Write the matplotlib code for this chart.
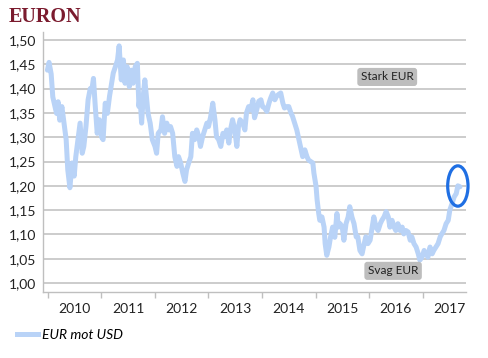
import matplotlib
matplotlib.use("Agg")
import matplotlib.pyplot as plt
from matplotlib.patches import Ellipse
from matplotlib.lines import Line2D

title = "EURON"
series_name = "EUR mot USD"
year_labels = ["2010", "2011", "2012", "2013", "2014", "2015", "2016", "2017"]
y_ticks = [1.00, 1.05, 1.10, 1.15, 1.20, 1.25, 1.30, 1.35, 1.40, 1.45, 1.50]

dates = [
    2009.99, 2010.02, 2010.06, 2010.09, 2010.13, 2010.16, 2010.19, 2010.22, 2010.26, 2010.30,
    2010.34, 2010.37, 2010.41, 2010.45, 2010.49, 2010.52, 2010.56, 2010.60, 2010.64, 2010.67,
    2010.71, 2010.75, 2010.79, 2010.82, 2010.85, 2010.88, 2010.92, 2010.96, 2011.00, 2011.03,
    2011.07, 2011.11, 2011.15, 2011.18, 2011.22, 2011.26, 2011.30, 2011.33, 2011.37, 2011.41,
    2011.44, 2011.48, 2011.52, 2011.56, 2011.59, 2011.63, 2011.67, 2011.70,
    2011.72, 2011.75, 2011.78, 2011.81, 2011.84, 2011.87, 2011.91, 2011.95, 2012.00, 2012.03,
    2012.06, 2012.11, 2012.14, 2012.18, 2012.22, 2012.26, 2012.29, 2012.33, 2012.37, 2012.41,
    2012.44, 2012.48, 2012.52, 2012.56, 2012.59, 2012.63, 2012.67, 2012.70, 2012.74, 2012.78,
    2012.82, 2012.85, 2012.89, 2012.93, 2012.97, 2013.00, 2013.04, 2013.08, 2013.12, 2013.15,
    2013.19, 2013.23, 2013.27, 2013.30, 2013.34, 2013.38, 2013.41, 2013.45, 2013.49, 2013.53,
    2013.56,
    2013.59, 2013.64, 2013.68, 2013.71, 2013.75, 2013.79, 2013.83, 2013.86, 2013.90, 2013.94,
    2013.98, 2014.01, 2014.05, 2014.09, 2014.13, 2014.16, 2014.20, 2014.24, 2014.27, 2014.31,
    2014.35, 2014.39, 2014.42, 2014.46, 2014.50, 2014.54, 2014.57, 2014.61, 2014.65, 2014.69,
    2014.72, 2014.76, 2014.80, 2014.84, 2014.87, 2014.91, 2014.95, 2014.97, 2015.01, 2015.03,
    2015.06, 2015.08, 2015.12, 2015.16, 2015.18, 2015.21, 2015.25, 2015.28, 2015.32, 2015.36,
    2015.40, 2015.43,
    2015.46, 2015.50, 2015.53, 2015.57, 2015.61, 2015.64, 2015.68, 2015.72, 2015.76, 2015.79,
    2015.83, 2015.87, 2015.91, 2015.94, 2015.98, 2016.02, 2016.06, 2016.09, 2016.13, 2016.17,
    2016.21, 2016.24, 2016.28, 2016.32, 2016.36, 2016.39, 2016.43, 2016.47, 2016.50, 2016.54,
    2016.58, 2016.62, 2016.65, 2016.69, 2016.73, 2016.77, 2016.80, 2016.84, 2016.88, 2016.92,
    2016.95, 2016.99, 2017.03, 2017.07, 2017.10, 2017.14, 2017.18, 2017.21, 2017.25, 2017.29,
    2017.33, 2017.36, 2017.40, 2017.44, 2017.48, 2017.51, 2017.55, 2017.59, 2017.63, 2017.66,
    2017.70,
]

eur_usd = [
    1.438, 1.454, 1.430, 1.383, 1.363, 1.349, 1.373, 1.335, 1.363, 1.329,
    1.295, 1.233, 1.196, 1.247, 1.220, 1.260, 1.295, 1.329, 1.267, 1.281,
    1.322, 1.377, 1.400, 1.397, 1.421, 1.370, 1.308, 1.336, 1.301, 1.295,
    1.370, 1.349, 1.384, 1.404, 1.432, 1.445, 1.459, 1.488, 1.418, 1.459,
    1.411, 1.445, 1.404, 1.438, 1.411, 1.445, 1.452, 1.363,
    1.384, 1.329, 1.384, 1.418, 1.384, 1.349, 1.329, 1.295, 1.281, 1.267,
    1.308, 1.315, 1.342, 1.308, 1.329, 1.315, 1.322, 1.308, 1.260, 1.240,
    1.260, 1.247, 1.226, 1.209, 1.233, 1.247, 1.260, 1.308, 1.295, 1.315,
    1.301, 1.281, 1.301, 1.315, 1.329, 1.322, 1.342, 1.370, 1.336, 1.301,
    1.295, 1.281, 1.308, 1.301, 1.315, 1.288, 1.315, 1.336, 1.315, 1.281,
    1.322,
    1.336, 1.329, 1.315, 1.350, 1.363, 1.356, 1.377, 1.340, 1.356, 1.374,
    1.377, 1.363, 1.360, 1.353, 1.370, 1.380, 1.391, 1.377, 1.384, 1.388,
    1.391, 1.370, 1.360, 1.363, 1.363, 1.350, 1.343, 1.329, 1.315, 1.295,
    1.281, 1.260, 1.274, 1.260, 1.253, 1.250, 1.247, 1.226, 1.199, 1.171,
    1.143, 1.129, 1.136, 1.115, 1.081, 1.057, 1.074, 1.094, 1.115, 1.094,
    1.143, 1.115,
    1.122, 1.115, 1.088, 1.122, 1.136, 1.157, 1.136, 1.122, 1.095, 1.095,
    1.067, 1.060, 1.081, 1.095, 1.081, 1.088, 1.115, 1.136, 1.115, 1.108,
    1.122, 1.129, 1.136, 1.147, 1.136, 1.115, 1.129, 1.115, 1.108, 1.122,
    1.108, 1.115, 1.101, 1.108, 1.105, 1.088, 1.095, 1.081, 1.074, 1.060,
    1.047, 1.053, 1.067, 1.060, 1.053, 1.074, 1.060, 1.067, 1.074, 1.081,
    1.095, 1.101, 1.108, 1.122, 1.129, 1.150, 1.163, 1.177, 1.184, 1.200,
    1.198,
]

label_font = ["Lato", "DejaVu Sans"]
plt.rcParams["font.family"] = label_font

fig = plt.figure(figsize=(4.88, 3.58), dpi=100)
ax = fig.add_axes([0.0881, 0.1844, 0.8669, 0.7262])

ax.plot(dates, eur_usd, color="#B9D3F7", linewidth=3.6, solid_joinstyle="round",
        solid_capstyle="round", zorder=3)

ax.set_xlim(2009.907, 2017.813)
ax.set_ylim(0.9815, 1.5165)

ax.set_yticks(y_ticks)
ax.set_yticklabels([f"{v:.2f}".replace(".", ",") for v in y_ticks])
ax.tick_params(axis="y", length=0, pad=5, labelsize=10, labelcolor="#222222")

first_year = int(year_labels[0])
ax.set_xticks([first_year + i for i in range(len(year_labels))])
ax.set_xticklabels([])
ax.set_xticks([first_year + i + 0.5 for i in range(len(year_labels))], minor=True)
ax.set_xticklabels(year_labels, minor=True)
ax.tick_params(axis="x", which="major", length=4, width=1, color="#BFBFBF", direction="out")
ax.tick_params(axis="x", which="minor", length=0, pad=8, labelsize=10, labelcolor="#222222")

ax.grid(axis="y", color="#C4C4C4", linewidth=1.2, zorder=1)
ax.set_axisbelow(True)
for s in ["top", "right"]:
    ax.spines[s].set_visible(False)
for s in ["left", "bottom"]:
    ax.spines[s].set_color("#BFBFBF")
    ax.spines[s].set_linewidth(1.0)

box = dict(boxstyle="round,pad=0.3,rounding_size=0.25", facecolor="#BDBDBD", edgecolor="none")
ax.text(2016.34, 1.424, "Stark EUR", ha="center", va="center", fontsize=8.5, color="#222222", bbox=box)
ax.text(2016.45, 1.025, "Svag EUR", ha="center", va="center", fontsize=8.5, color="#222222", bbox=box)

ax.add_patch(Ellipse((2017.66, 1.1996), 0.38, 0.083, fill=False, edgecolor="#1F6FE3",
                     linewidth=2.3, zorder=4, clip_on=False))

fig.text(0.018, 0.952, title, fontsize=14.5, fontweight="bold", color="#7B1B2E",
         family="Liberation Serif", ha="left", va="center")

handle = Line2D([], [], color="#B9D3F7", linewidth=3.6)
fig.legend([handle], [series_name], loc="center left", bbox_to_anchor=(0.01, 0.064),
           frameon=False, handlelength=1.5, handletextpad=0.3,
           prop={"style": "italic", "size": 10, "family": label_font})

fig.savefig("out.png", dpi=100)
